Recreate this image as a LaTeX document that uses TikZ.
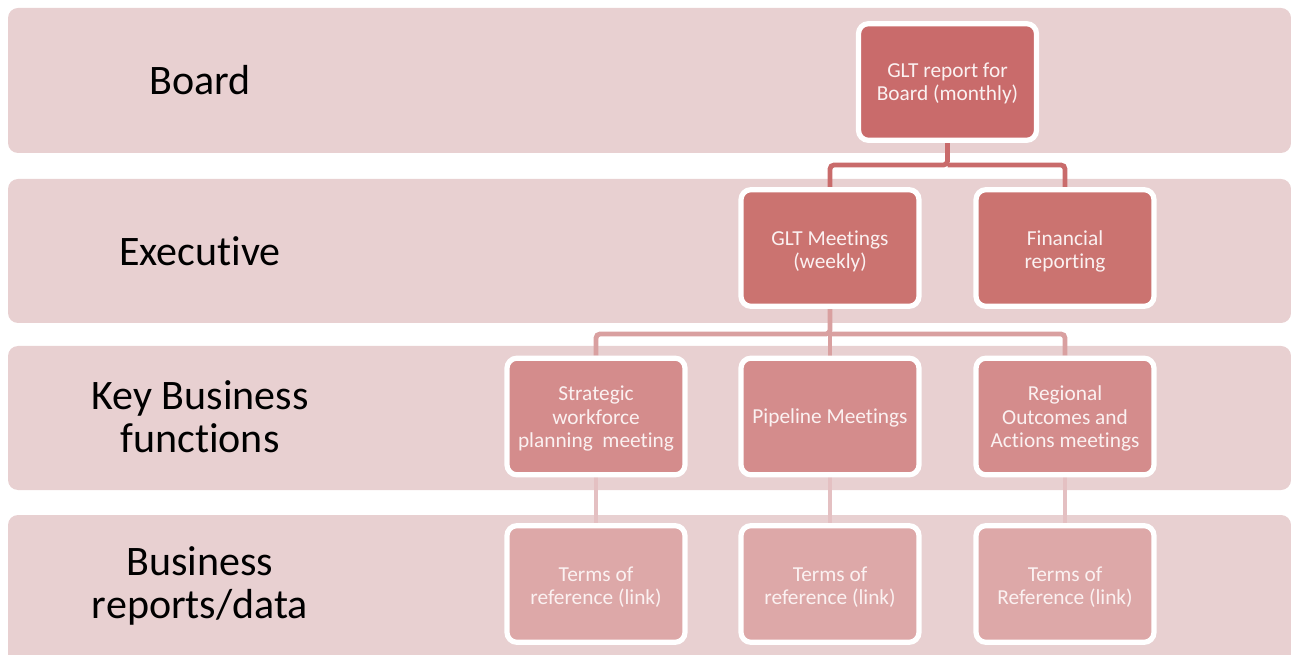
\documentclass[tikz,border=0pt]{standalone}
\usepackage{fontspec}
\setmainfont{Carlito}[Ligatures=NoCommon]
\definecolor{bandc}{HTML}{E8D0D1}
\definecolor{c1}{HTML}{C96B6B}
\definecolor{c2}{HTML}{CB7370}
\definecolor{c3}{HTML}{D48C8C}
\definecolor{c4}{HTML}{DDA8A8}
\definecolor{l1}{HTML}{C96B6B}
\definecolor{l2}{HTML}{D9A0A0}
\definecolor{l3}{HTML}{E4C0C2}
\definecolor{txt}{HTML}{FBF1F1}
\pgfdeclarelayer{bandlayer}
\pgfdeclarelayer{connlayer}
\pgfsetlayers{bandlayer,connlayer,main}
\tikzset{
  band/.style={fill=bandc, draw=none, rounded corners=7.5pt},
  lbl/.style={align=center, font=\fontsize{31.5}{32}\selectfont, text=black},
  box/.style={rectangle, rounded corners=7.5pt, draw=white, line width=3.9pt,
    minimum width=133.5pt, minimum height=87.5pt, text width=128pt, align=center,
    inner sep=0pt, text=txt, font=\fontsize{16}{17.6}\selectfont},
  boxtext/.style={align=center, inner sep=0pt, text=txt, font=\fontsize{16}{17.6}\selectfont},
  conn/.style={line width=3.6pt, rounded corners=3pt}
}
\begin{document}
\begin{tikzpicture}[x=0.75pt,y=-0.75pt]
\useasboundingbox (0,0) rectangle (1291,655);
\clip (0,0) rectangle (1291,655);
% bands
\begin{pgfonlayer}{bandlayer}
\fill[band] (8,8) rectangle (1291,153);
\fill[band] (8,179) rectangle (1291,323);
\fill[band] (8,346) rectangle (1291,490);
\fill[band] (8,515) rectangle (1291,680);
\end{pgfonlayer}
% band labels
\node[lbl] (lb1) at (200,80) {Board};
\node[lbl] (lb2) at (200,251) {Executive};
\node[lbl] (lb3) at (200,417) {Key Business\\functions};
\node[lbl] (lb4) at (200,586) {Business\\reports/data};
% boxes
\node[box, fill=c1] (top) at (947.5,82) {};
\node[box, fill=c2] (glt) at (830,248) {};
\node[box, fill=c2] (fin) at (1065,248) {};
\node[box, fill=c3] (swp) at (596,416.5) {};
\node[box, fill=c3] (pip) at (830,416.5) {};
\node[box, fill=c3] (reg) at (1065,416.5) {};
\node[box, fill=c4] (t1) at (596,584) {};
\node[box, fill=c4] (t2) at (830,584) {};
\node[box, fill=c4] (t3) at (1065,584) {};
% box texts
\node[boxtext] (ttop) at ([yshift=-1pt]top.center) {GLT report for\\Board (monthly)};
\node[boxtext] (tglt) at ([yshift=-2.5pt]glt.center) {GLT Meetings\\(weekly)};
\node[boxtext] (tfin) at ([yshift=-2.5pt]fin.center) {Financial\\reporting};
\node[boxtext] (tswp) at ([yshift=-1.5pt]swp.center) {Strategic\\workforce\\planning\ \ meeting};
\node[boxtext] (tpip) at ([yshift=-1pt]pip.center) {Pipeline Meetings};
\node[boxtext] (treg) at ([yshift=-1.5pt]reg.center) {Regional\\Outcomes and\\Actions meetings};
\node[boxtext] (tt1) at ([yshift=-2.5pt]t1.center) {Terms of\\reference (link)};
\node[boxtext] (tt2) at ([yshift=-2.5pt]t2.center) {Terms of\\reference (link)};
\node[boxtext] (tt3) at ([yshift=-2.5pt]t3.center) {Terms of\\Reference (link)};
% connectors
\coordinate (j1) at (947.5,165);
\coordinate (j2) at (830,334);
\begin{pgfonlayer}{connlayer}
\draw[conn, draw=l1] (top.south) -- (j1) -| (glt.north);
\draw[conn, draw=l1] (j1) -| (fin.north);
\draw[conn, draw=l2] (glt.south) -- (j2) -| (swp.north);
\draw[conn, draw=l2] (j2) -- (pip.north);
\draw[conn, draw=l2] (j2) -| (reg.north);
\draw[conn, draw=l3] (swp.south) -- (t1.north);
\draw[conn, draw=l3] (pip.south) -- (t2.north);
\draw[conn, draw=l3] (reg.south) -- (t3.north);
\end{pgfonlayer}
\end{tikzpicture}
\end{document}
